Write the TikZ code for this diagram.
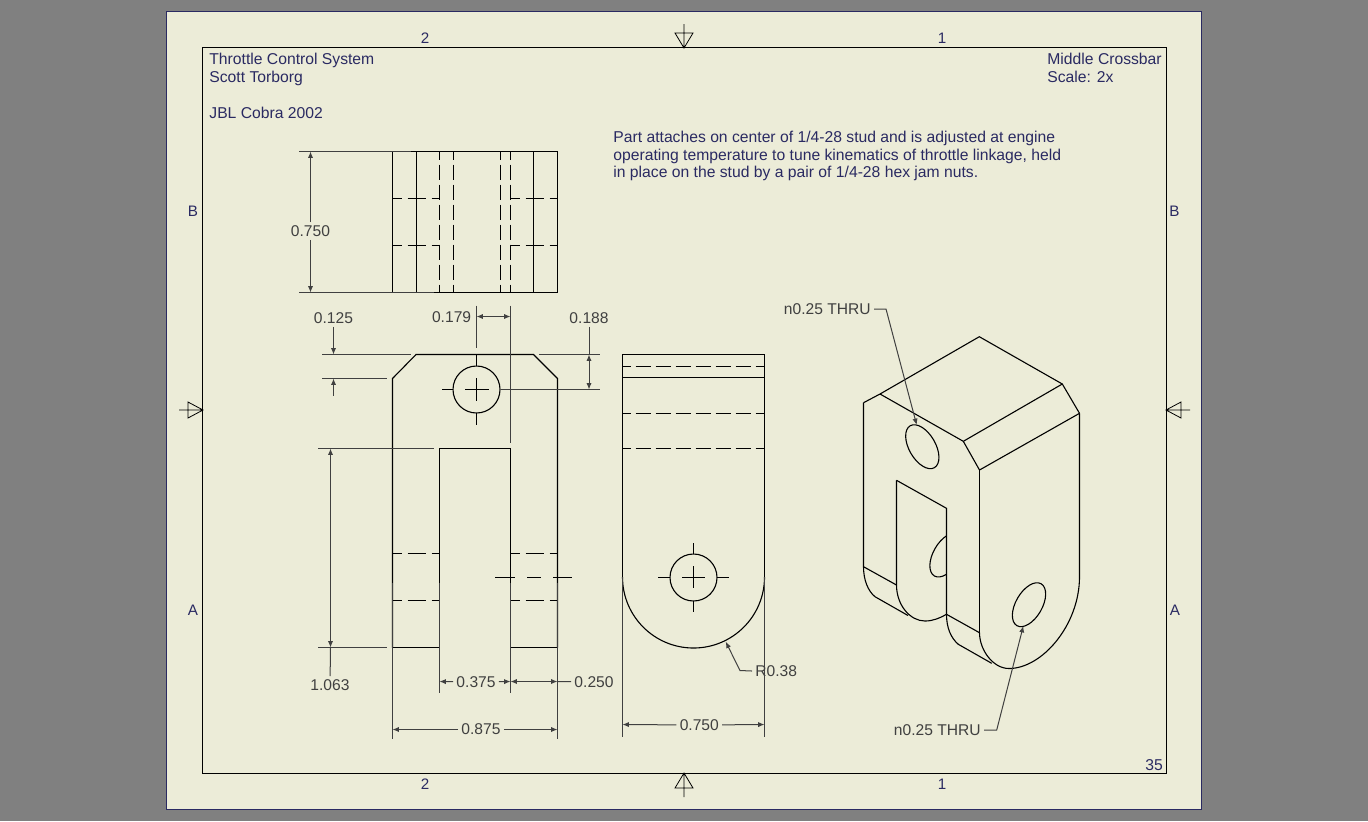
\documentclass[tikz,border=0pt]{standalone}
\usepackage{fontspec}
\setmainfont{Liberation Sans}
\usetikzlibrary{arrows.meta, positioning, calc}
\definecolor{sheet}{HTML}{ECECD8}
\definecolor{navy}{HTML}{2A2A62}
\definecolor{dimgray}{HTML}{404040}
\definecolor{backgray}{HTML}{808080}
\tikzset{
  part/.style={black, line width=0.55pt},
  hidden/.style={black, line width=0.55pt, dash pattern=on 7.6pt off 2.4pt, dash phase=3.4pt},
  hiddenleg/.style={black, line width=0.55pt, dash pattern=on 9pt off 3pt, dash phase=4.5pt},
  dimline/.style={dimgray, line width=0.5pt, >={Latex[length=3.2pt,width=2.6pt]}},
  dimtext/.style={text=dimgray, inner sep=1.5pt, font=\fontsize{7.8}{9}\selectfont},
  sheettext/.style={text=navy, anchor=base west, inner sep=0pt, font=\fontsize{7.85}{9}\selectfont},
  zonetext/.style={text=navy, inner sep=0pt, font=\fontsize{7.6}{9}\selectfont},
}
\begin{document}
\begin{tikzpicture}[x=0.5pt, y=-0.5pt]
      \useasboundingbox (0, 0) rectangle (1368, 821);
      \fill[backgray] (0, 0) rectangle (1368, 821);
      \draw[navy, fill=sheet, line width=0.5pt] (166.5, 11.5) rectangle (1201.5, 809.5);
      \draw[black, line width=0.5pt] (202.5, 47.5) rectangle (1166.5, 773.5);

      \node[zonetext] (zoneTwoTop) at (425, 38) {2};
      \node[zonetext] (zoneOneTop) at (942, 38) {1};
      \node[zonetext] (zoneTwoBot) at (425, 784) {2};
      \node[zonetext] (zoneOneBot) at (942, 784) {1};
      \node[zonetext] (zoneBLeft) at (193, 211) {B};
      \node[zonetext] (zoneBRight) at (1174.5, 211) {B};
      \node[zonetext] (zoneALeft) at (193, 610) {A};
      \node[zonetext] (zoneARight) at (1175, 610) {A};

      \draw[black, line width=0.4pt] (684, 24) -- (684, 48) (675, 33) -- (693, 33) -- (684, 48) -- cycle;
      \draw[black, line width=0.4pt] (684, 797) -- (684, 773) (675, 788) -- (693, 788) -- (684, 773) -- cycle;
      \draw[black, line width=0.4pt] (179, 410) -- (203, 410) (188, 402) -- (188, 418) -- (203, 410) -- cycle;
      \draw[black, line width=0.4pt] (1190, 410) -- (1166, 410) (1181, 402) -- (1181, 418) -- (1166, 410) -- cycle;

      \node[sheettext] (titleSystem) at (209, 64) {Throttle Control System};
      \node[sheettext] (titleName) at (209, 82) {Scott Torborg};
      \node[sheettext] (titleCar) at (209, 118) {JBL Cobra 2002};
      \node[sheettext] (titlePart) at (1047, 64) {Middle Crossbar};
      \node[sheettext] (titleScale) at (1047, 82) {Scale: 2x};
      \node[sheettext] (sheetNum) at (1145, 770) {35};
      \node[sheettext] (noteOne) at (613, 142) {Part attaches on center of 1/4-28 stud and is adjusted at engine};
      \node[sheettext] (noteTwo) at (613, 160) {operating temperature to tune kinematics of throttle linkage, held};
      \node[sheettext] (noteThree) at (613, 177) {in place on the stud by a pair of 1/4-28 hex jam nuts.};

      % top view
      \draw[part] (392.5, 151.5) rectangle (557.5, 292.5);
      \foreach \xv in {416.5, 533.5}
        \draw[part] (\xv, 151.5) -- (\xv, 292.5);
      \foreach \xv in {439.5, 453.5, 500.5, 510.5}
        \draw[hidden] (\xv, 151.5) -- (\xv, 292.5);
      \foreach \yv in {198.5, 245.5} {
        \draw[hiddenleg] (392.5, \yv) -- (439.5, \yv);
        \draw[hiddenleg] (510.5, \yv) -- (557.5, \yv);
      }
      \draw[dimline] (299, 151.5) -- (411, 151.5);
      \draw[dimline] (299, 292.5) -- (434, 292.5);
      \node[dimtext] (dimHeight) at (310.5, 231) {0.750};
      \draw[dimline, ->] (dimHeight) -- (310.5, 151.5);
      \draw[dimline, ->] (dimHeight) -- (310.5, 292.5);

      % front view
      \draw[part] (392.5, 647.5) -- (392.5, 378.5) -- (416, 354.5) -- (533.5, 354.5) -- (557.5, 378.5) -- (557.5, 647.5);
      \draw[part] (439.5, 647.5) -- (439.5, 448.5) -- (510.5, 448.5) -- (510.5, 647.5);
      \draw[part] (392.5, 647.5) -- (439.5, 647.5);
      \draw[part] (510.5, 647.5) -- (557.5, 647.5);
      \foreach \yv in {553.5, 600.5} {
        \draw[hiddenleg] (392.5, \yv) -- (439.5, \yv);
        \draw[hiddenleg] (510.5, \yv) -- (557.5, \yv);
      }
      \draw[part] (476.5, 389.5) circle [radius=23.5];
      \draw[part] (465, 389.5) -- (488.5, 389.5);
      \draw[part] (476.5, 378) -- (476.5, 401);
      \draw[part] (442, 389.5) -- (453, 389.5);
      \draw[part] (476.5, 354.5) -- (476.5, 366);
      \draw[part] (476.5, 413) -- (476.5, 425);
      \draw[part] (495, 577.5) -- (515, 577.5) (527, 577.5) -- (541, 577.5) (553, 577.5) -- (571.7, 577.5);

      \draw[dimline] (392.5, 582.7) -- (392.5, 739.3);
      \draw[dimline] (557.5, 582.7) -- (557.5, 739.3);
      \draw[dimline] (439.5, 582.7) -- (439.5, 693);
      \draw[dimline] (510.5, 582.7) -- (510.5, 693);
      \draw[dimline] (476.5, 305.7) -- (476.5, 348.3);
      \draw[dimline] (510.5, 305.7) -- (510.5, 442.7);
      \draw[dimline] (322.3, 354.5) -- (410.7, 354.5);
      \draw[dimline] (322.3, 378.5) -- (386.7, 378.5);
      \draw[dimline] (539.3, 354.5) -- (600, 354.5);
      \draw[dimline] (500.5, 389.5) -- (600, 389.5);
      \draw[dimline] (318.3, 448.5) -- (434, 448.5);
      \draw[dimline] (318.3, 647.5) -- (386.7, 647.5);

      \node[dimtext, anchor=east] (dimSlotOff) at (474.5, 317) {0.179};
      \draw[dimline, <->] (476.5, 316.5) -- (510.5, 316.5);
      \node[dimtext] (dimChamfer) at (333.5, 318) {0.125};
      \draw[dimline, ->] (dimChamfer) -- (333.5, 354.5);
      \draw[dimline, <-] (333.5, 378.5) -- (333.5, 396);
      \node[dimtext] (dimHole) at (589, 318) {0.188};
      \draw[dimline] (dimHole) -- (589, 354.5);
      \draw[dimline, <->] (589, 354.5) -- (589, 389.5);
      \node[dimtext] (dimSlot) at (330, 685) {1.063};
      \draw[dimline, <->] (330.5, 448.5) -- (330.5, 647.5);
      \draw[dimline] (330.5, 647.5) -- (dimSlot);
      \node[dimtext] (dimGap) at (476, 682) {0.375};
      \draw[dimline, ->] (dimGap) -- (439.5, 681.5);
      \draw[dimline, ->] (dimGap) -- (510.5, 681.5);
      \node[dimtext] (dimLeg) at (594, 682) {0.250};
      \draw[dimline, <->] (510.5, 681.5) -- (557.5, 681.5);
      \draw[dimline] (557.5, 681.5) -- (dimLeg);
      \node[dimtext] (dimWidth) at (481, 729.5) {0.875};
      \draw[dimline, ->] (dimWidth) -- (392.5, 729.5);
      \draw[dimline, ->] (dimWidth) -- (557.5, 729.5);

      % side view
      \draw[part] (622.5, 577) -- (622.5, 354.5) -- (764.5, 354.5) -- (764.5, 577);
      \draw[part] (622.5, 577) arc (180:0:71);
      \draw[part] (622.5, 377.5) -- (764.5, 377.5);
      \foreach \yv in {366.5, 413.5, 448.5}
        \draw[hidden] (622.5, \yv) -- (764.5, \yv);
      \draw[part] (693.5, 577.5) circle [radius=23.5];
      \draw[part] (682.3, 577.5) -- (705, 577.5);
      \draw[part] (693.5, 566) -- (693.5, 588.3);
      \draw[part] (658.3, 577.5) -- (670, 577.5);
      \draw[part] (717, 577.5) -- (729, 577.5);
      \draw[part] (693.5, 543.3) -- (693.5, 554);
      \draw[part] (693.5, 601) -- (693.5, 611.7);
      \draw[dimline] (622.5, 577) -- (622.5, 736.7);
      \draw[dimline] (764.5, 577) -- (764.5, 736.7);
      \node[dimtext] (dimSide) at (699.3, 725) {0.750};
      \draw[dimline, ->] (dimSide) -- (622.5, 724.5);
      \draw[dimline, ->] (dimSide) -- (764.5, 724.5);
      \node[dimtext, anchor=west] (dimRadius) at (752, 671) {R0.38};
      \draw[dimline, ->] (dimRadius.west) -- (740, 670.5) -- (725.7, 641.7);

      % iso view
      \draw[part] (863.5, 402.7) -- (880, 394) -- (979.3, 336.7) -- (1062.3, 384) -- (1079.5, 413.3);
      \draw[part] (880, 394) -- (963.3, 441.3) -- (1062.3, 384);
      \draw[part] (963.3, 441.3) -- (979.5, 470) -- (1079.5, 413.3);
      \draw[part] (979.5, 470) -- (979.5, 632.7);
      \draw[part] (1079.5, 413.3) -- (1079.5, 576.7) .. controls (1079.5, 625) and (1042, 668.5) .. (1009, 668.5);
      \draw[part] (979.5, 632.7) .. controls (979.5, 650) and (993, 668.5) .. (1009, 668.5);
      \draw[part] (863.5, 402.7) -- (863.5, 566.7) .. controls (863.5, 580) and (868, 591) .. (875, 596.7) -- (908, 615.5);
      \draw[part] (863.5, 566.7) -- (896.5, 585);
      \draw[part] (896.5, 480.3) -- (946.5, 508.3) -- (946.5, 614.3);
      \draw[part] (896.5, 480.3) -- (896.5, 585) .. controls (896.5, 605) and (910, 621) .. (925, 621) .. controls (933, 621) and (940, 618) .. (946.5, 614.3);
      \draw[part] (946.5, 614.3) -- (979.5, 632.7);
      \draw[part] (946.5, 614.3) .. controls (946.5, 628) and (951, 638) .. (958.3, 644.3) -- (991.7, 663.3);
      \draw[part, rotate around={30:(922.3, 446.7)}] (922.3, 446.7) ellipse [x radius=13.2, y radius=24.2];
      \draw[part, rotate around={-30:(1029, 604.7)}] (1029, 604.7) ellipse [x radius=13.2, y radius=24.2];
      \begin{scope}
        \clip (900, 500) rectangle (946.5, 640);
        \draw[part, rotate around={-30:(946.5, 555)}] (946.5, 555) ellipse [x radius=13.2, y radius=24.2];
      \end{scope}
      \node[dimtext, anchor=east] (holeTop) at (874, 309) {n0.25 THRU};
      \draw[dimline, ->] (holeTop.east) -- (886, 309) -- (916.7, 425);
      \node[dimtext, anchor=east] (holeBot) at (984, 730) {n0.25 THRU};
      \draw[dimline, ->] (holeBot.east) -- (996.7, 730) -- (1023.3, 626);

    \end{tikzpicture}
\end{document}
